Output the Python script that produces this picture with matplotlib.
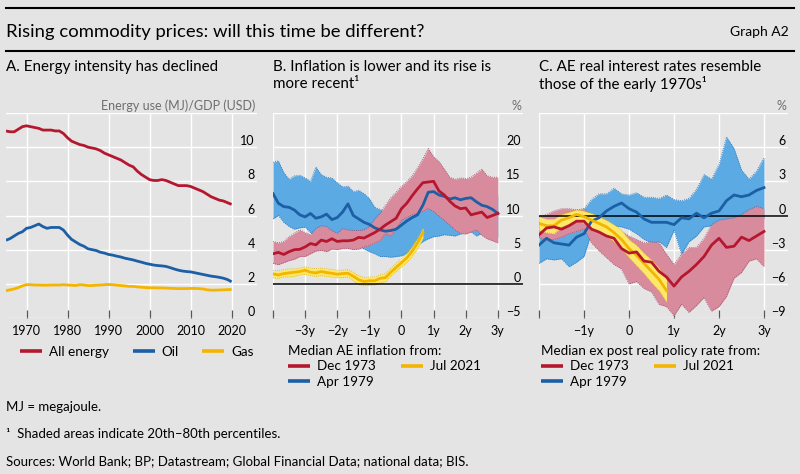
import numpy as np
import matplotlib
matplotlib.use("Agg")
import matplotlib.pyplot as plt
from matplotlib.lines import Line2D
from matplotlib import font_manager as fm

# ---------------- data ----------------
years = list(range(1965, 2021))
all_energy = [10.95, 10.9, 10.9, 11.05, 11.2, 11.25, 11.2, 11.15, 11.1, 11.0,
              11.0, 11.0, 10.95, 10.95, 10.8, 10.55, 10.35, 10.25, 10.15, 10.1,
              10.0, 9.95, 9.9, 9.8, 9.65, 9.55, 9.45, 9.35, 9.25, 9.1,
              8.95, 8.85, 8.6, 8.4, 8.25, 8.1, 8.05, 8.05, 8.1, 8.05,
              7.95, 7.85, 7.75, 7.75, 7.75, 7.7, 7.6, 7.5, 7.4, 7.25,
              7.1, 7.0, 6.9, 6.85, 6.75, 6.65]
oil = [4.55, 4.65, 4.8, 4.95, 5.05, 5.25, 5.3, 5.4, 5.5, 5.35,
       5.25, 5.3, 5.3, 5.3, 5.15, 4.85, 4.6, 4.45, 4.3, 4.2,
       4.05, 4.0, 3.95, 3.85, 3.8, 3.72, 3.68, 3.62, 3.57, 3.5,
       3.45, 3.4, 3.33, 3.27, 3.2, 3.15, 3.1, 3.07, 3.05, 3.02,
       2.95, 2.87, 2.8, 2.75, 2.72, 2.7, 2.65, 2.6, 2.55, 2.5,
       2.45, 2.42, 2.38, 2.33, 2.25, 2.12]
gas = [1.6, 1.65, 1.7, 1.78, 1.88, 1.95, 1.95, 1.93, 1.93, 1.92,
       1.92, 1.93, 1.93, 1.93, 1.95, 1.93, 1.92, 1.9, 1.95, 1.93,
       1.9, 1.9, 1.92, 1.93, 1.95, 1.96, 1.95, 1.92, 1.9, 1.88,
       1.85, 1.85, 1.82, 1.8, 1.78, 1.77, 1.77, 1.76, 1.76, 1.75,
       1.74, 1.73, 1.72, 1.72, 1.72, 1.73, 1.73, 1.72, 1.7, 1.65,
       1.63, 1.63, 1.64, 1.65, 1.66, 1.67]

# Panel B: months relative to start of episode (-48 .. 36)
months_b = np.arange(-48, 37, 2)
infl_dec73_med = [4.4, 4.6, 4.3, 4.7, 5.0, 5.05, 5.4, 5.9, 5.7, 6.4, 6.2, 6.6, 6.2, 6.3, 6.3,
                  6.4, 6.8, 6.7, 7.1, 7.5, 8.0, 8.6, 9.1, 9.6, 11.0, 11.8, 12.9, 13.9, 14.8,
                  14.9, 15.0, 13.6, 13.0, 12.1, 11.4, 11.0, 11.1, 10.1, 10.3, 10.5, 9.7, 10.0, 10.3]
infl_dec73_hi = [6.2, 6.0, 6.2, 6.9, 7.4, 7.9, 7.5, 7.2, 8.1, 8.5, 8.4, 7.8, 7.4, 8.1, 7.9,
                 7.8, 7.8, 7.9, 8.4, 9.5, 10.3, 11.5, 12.6, 13.4, 14.3, 15.0, 15.8, 17.0, 18.3,
                 19.8, 18.6, 17.9, 16.8, 15.6, 15.3, 15.5, 15.4, 15.6, 16.2, 16.8, 15.8, 15.6, 15.6]
infl_dec73_lo = [3.0, 2.8, 3.1, 3.4, 3.6, 4.0, 4.0, 4.4, 4.8, 4.9, 4.7, 5.1, 5.0, 5.2, 5.2,
                 5.0, 5.1, 5.4, 5.6, 6.0, 6.3, 7.3, 7.0, 8.0, 9.3, 9.7, 10.1, 10.4, 10.6,
                 11.0, 10.6, 9.9, 9.3, 8.6, 7.9, 7.4, 7.3, 7.6, 7.9, 7.1, 6.6, 6.3, 6.0]
infl_apr79_med = [13.2, 11.8, 11.3, 11.2, 10.8, 10.1, 9.8, 10.3, 9.6, 9.8, 10.2, 9.4, 9.7, 10.5, 11.7,
                  10.0, 9.5, 9.0, 8.7, 8.2, 7.9, 7.7, 7.8, 8.0, 8.6, 9.2, 9.7, 10.1, 11.5,
                  13.4, 13.5, 13.0, 12.8, 12.4, 12.6, 12.3, 12.5, 12.6, 12.0, 11.5, 11.3, 10.9, 10.3]
infl_apr79_hi = [17.8, 18.0, 16.3, 15.3, 15.8, 15.9, 15.5, 15.0, 17.1, 16.0, 15.6, 15.5, 14.8, 14.2, 14.3,
                 13.5, 13.7, 13.2, 12.5, 11.2, 10.9, 10.5, 10.7, 11.0, 11.6, 12.2, 12.8, 13.5, 14.2,
                 15.0, 15.5, 15.3, 15.0, 14.8, 14.6, 14.5, 14.4, 14.2, 14.0, 13.8, 13.6, 13.3, 13.0]
infl_apr79_lo = [9.5, 10.0, 9.0, 8.4, 8.0, 8.2, 8.3, 7.5, 7.0, 6.8, 6.5, 6.3, 6.0, 5.8, 5.8,
                 5.6, 5.5, 5.1, 4.7, 4.4, 4.0, 4.0, 3.9, 4.0, 4.1, 4.5, 5.0, 5.6, 6.2,
                 6.6, 6.9, 7.0, 7.2, 7.1, 7.0, 7.3, 7.4, 7.6, 7.0, 7.4, 7.2, 7.0, 6.8]
months_b_2021 = np.arange(-48, 9, 2)
infl_jul21_med = [1.45, 1.3, 1.5, 1.6, 1.7, 1.8, 2.0, 1.7, 1.6, 1.8, 1.65, 1.55, 1.4, 1.5, 1.55,
                  1.1, 0.6, 0.35, 0.45, 0.45, 0.8, 0.9, 1.7, 2.4, 3.1, 3.8, 4.8, 6.0, 7.5]
infl_jul21_hi = [2.0, 1.9, 2.1, 2.2, 2.2, 2.3, 2.5, 2.3, 2.2, 2.3, 2.2, 2.1, 2.0, 2.0, 2.1,
                 1.7, 1.2, 0.9, 1.0, 1.0, 1.3, 1.5, 2.3, 3.0, 3.7, 4.5, 5.5, 6.7, 8.2]
infl_jul21_lo = [0.9, 0.8, 1.0, 1.0, 1.1, 1.3, 1.4, 1.2, 1.1, 1.2, 1.1, 1.0, 0.9, 0.9, 1.0,
                 0.5, -0.1, -0.3, -0.2, -0.2, 0.2, 0.3, 1.1, 1.8, 2.5, 3.1, 4.0, 5.2, 6.7]

# Panel C: months relative to start of episode (-24 .. 36)
months_c = np.arange(-24, 37, 2)
rate_dec73_med = [-1.7, -1.1, -1.0, -1.2, -0.9, -0.5, -0.5, -1.2, -1.45, -1.8, -2.0, -2.9, -3.3, -3.2, -4.0, -4.1,
                  -4.9, -5.4, -6.2, -5.4, -4.9, -4.3, -3.6, -2.6, -2.0, -2.8, -2.7, -1.9, -2.2, -1.8, -1.4]
rate_dec73_hi = [-0.1, 0.1, 0.4, 0.6, 0.6, 0.5, 0.6, 0.0, -0.2, -0.4, -1.0, -1.4, -1.8, -2.1, -2.4, -2.3,
                 -2.4, -3.4, -4.3, -3.4, -2.8, -2.8, -2.0, -0.8, -0.4, -0.3, -0.2, 0.1, 0.5, 0.8, 0.6]
rate_dec73_lo = [-1.9, -2.2, -2.1, -1.9, -1.6, -1.4, -1.2, -2.4, -3.1, -3.7, -4.3, -4.7, -6.0, -5.8, -6.4, -6.7,
                 -7.8, -8.0, -8.8, -7.8, -8.5, -7.9, -7.2, -8.4, -8.0, -7.1, -5.5, -5.0, -4.0, -3.8, -4.5]
rate_apr79_med = [-2.6, -2.0, -2.4, -2.5, -2.6, -1.9, -1.6, -0.5, -0.2, 0.4, 0.8, 1.1, 0.6, 0.3, -0.3, -0.6,
                  -0.6, -0.6, -0.8, -0.2, -0.3, 0.2, -0.2, 0.2, 0.4, 1.3, 1.8, 1.65, 1.8, 2.2, 2.45]
rate_apr79_hi = [-0.6, -0.5, -0.4, -0.3, -0.2, 0.0, 0.6, 1.4, 1.9, 1.9, 2.4, 1.9, 1.8, 2.0, 1.6, 1.6,
                 1.5, 1.8, 1.4, 1.3, 1.5, 2.3, 3.6, 3.2, 4.5, 6.9, 5.9, 4.0, 3.2, 3.9, 5.1]
rate_apr79_lo = [-4.2, -3.8, -3.9, -3.8, -4.5, -4.1, -3.6, -1.5, -1.2, -1.0, -0.9, -1.0, -1.2, -1.6, -2.1, -2.4,
                 -2.3, -2.8, -1.3, -3.4, -2.3, -1.8, -1.0, -0.9, -0.7, -0.6, -0.5, -0.4, -0.3, -0.2, -0.3]
months_c_2021 = np.arange(-24, 11, 2)
rate_jul21_med = [-0.7, -0.9, -0.9, -0.4, -0.2, 0.1, -0.1, -0.4, -0.7, -1.0, -1.5, -2.1, -2.9, -3.5, -4.2, -4.9, -5.6, -6.6]
rate_jul21_hi = [-0.1, -0.3, -0.3, 0.1, 0.3, 0.5, 0.4, 0.2, -0.1, -0.4, -0.8, -1.3, -2.1, -2.6, -3.3, -3.9, -4.6, -5.6]
rate_jul21_lo = [-1.3, -1.5, -1.6, -1.0, -0.8, -0.4, -0.7, -1.1, -1.5, -1.8, -2.3, -2.9, -3.7, -4.4, -5.1, -5.9, -6.6, -7.6]

# tick definitions
a_xticks = [1970, 1980, 1990, 2000, 2010, 2020]
a_yticks = [0, 2, 4, 6, 8, 10, 12]
a_ylabels = ["0", "2", "4", "6", "8", "10", ""]
b_xticks = [-48, -36, -24, -12, 0, 12, 24, 36]
b_xlabels = ["", "\u22123y", "\u22122y", "\u22121y", "0", "1y", "2y", "3y"]
b_yticks = [-5, 0, 5, 10, 15, 20, 25]
b_ylabels = ["\u22125", "0", "5", "10", "15", "20", ""]
c_xticks = [-24, -12, 0, 12, 24, 36]
c_xlabels = ["", "\u22121y", "0", "1y", "2y", "3y"]
c_yticks = [-9, -6, -3, 0, 3, 6, 9]
c_ylabels = ["\u22129", "\u22126", "\u22123", "0", "3", "6", ""]

# ---------------- style ----------------
REG = "Lato"
plt.rcParams["font.family"] = [REG, "DejaVu Sans"]

BG = "#e4e4e4"
RED = "#b5172f"
BLUE = "#1c5fa5"
YEL = "#f3b500"
PINK = "#d98b9e"
LBLUE = "#5baae3"
LYEL = "#fde86a"
PINK_E = "#9c4a6a"
LBLUE_E = "#2a6fb5"
LYEL_E = "#e0b400"
GREY_T = "#6e6e6e"

W, H = 800, 474
fig = plt.figure(figsize=(W / 100, H / 100), dpi=100)
fig.patch.set_facecolor(BG)

def fx(px):
    return px / W

def fy(py):
    return 1 - py / H

top_px, bot_px = 113, 318
axA = fig.add_axes([fx(6), fy(bot_px), (257 - 6) / W, (bot_px - top_px) / H])
axB = fig.add_axes([fx(273), fy(bot_px), (523 - 273) / W, (bot_px - top_px) / H])
axC = fig.add_axes([fx(539), fy(bot_px), (788 - 539) / W, (bot_px - top_px) / H])

TICK_FS = 9

def style_axes(ax, xt, xl, yt, yl):
    ax.set_facecolor(BG)
    for s in ax.spines.values():
        s.set_visible(False)
    ax.set_axisbelow(True)
    ax.grid(True, color="white", lw=1.0)
    ax.set_xticks(xt)
    ax.set_xticklabels(xl)
    ax.yaxis.tick_right()
    ax.set_yticks(yt)
    ax.set_yticklabels(yl, ha="right", va="bottom")
    ax.tick_params(axis="y", length=0, pad=-1.5, labelsize=TICK_FS, colors="black")
    ax.tick_params(axis="x", direction="in", length=6, width=0.9, color="#555555",
                   pad=5, labelsize=TICK_FS)

# ---------------- panel A ----------------
style_axes(axA, a_xticks, [str(v) for v in a_xticks], a_yticks, a_ylabels)
axA.set_xlim(1965, 2026.2)
axA.set_ylim(0, 12)
axA.plot(years, all_energy, color=RED, lw=2.0, solid_capstyle="butt", zorder=3)
axA.plot(years, oil, color=BLUE, lw=2.0, solid_capstyle="butt", zorder=3)
axA.plot(years, gas, color=YEL, lw=2.0, solid_capstyle="butt", zorder=3)

def band(ax, x, lo, hi, face, edge, z):
    ax.fill_between(x, lo, hi, color=face, lw=0, zorder=z)
    ax.plot(x, lo, color=edge, lw=0.6, ls=(0, (1, 1.5)), zorder=z + 0.1)
    ax.plot(x, hi, color=edge, lw=0.6, ls=(0, (1, 1.5)), zorder=z + 0.1)

# ---------------- panel B ----------------
style_axes(axB, b_xticks, b_xlabels, b_yticks, b_ylabels)
axB.set_xlim(-48, 45.4)
axB.set_ylim(-5, 25)
band(axB, months_b, infl_apr79_lo, infl_apr79_hi, LBLUE, LBLUE_E, 1)
band(axB, months_b, infl_dec73_lo, infl_dec73_hi, PINK, PINK_E, 2)
band(axB, months_b_2021, infl_jul21_lo, infl_jul21_hi, LYEL, LYEL_E, 3)
axB.axhline(0, color="black", lw=1.1, zorder=4)
axB.plot(months_b, infl_apr79_med, color=BLUE, lw=2.0, zorder=5)
axB.plot(months_b, infl_dec73_med, color=RED, lw=2.0, zorder=6)
axB.plot(months_b_2021, infl_jul21_med, color=YEL, lw=2.0, zorder=7)

# ---------------- panel C ----------------
style_axes(axC, c_xticks, c_xlabels, c_yticks, c_ylabels)
axC.set_xlim(-24, 42.4)
axC.set_ylim(-9, 9)
band(axC, months_c, rate_apr79_lo, rate_apr79_hi, LBLUE, LBLUE_E, 1)
band(axC, months_c, rate_dec73_lo, rate_dec73_hi, PINK, PINK_E, 2)
band(axC, months_c_2021, rate_jul21_lo, rate_jul21_hi, LYEL, LYEL_E, 3)
axC.axhline(0, color="black", lw=1.1, zorder=4)
axC.plot(months_c, rate_apr79_med, color=BLUE, lw=2.0, zorder=5)
axC.plot(months_c_2021, rate_jul21_med, color=YEL, lw=2.0, zorder=6)
axC.plot(months_c, rate_dec73_med, color=RED, lw=2.0, zorder=7)

# ---------------- titles / labels ----------------
fig.add_artist(Line2D([fx(6), fx(794)], [fy(8), fy(8)], color="black", lw=1.5))
fig.add_artist(Line2D([fx(6), fx(794)], [fy(51), fy(51)], color="black", lw=1.5))
fig.text(fx(6), fy(32), "Rising commodity prices: will this time be different?",
         fontsize=13.3, family=REG, va="center", ha="left")
fig.text(fx(789), fy(32), "Graph A2", fontsize=10, va="center", ha="right")

PT_FS = 10.9
fig.text(fx(6), fy(67), "A. Energy intensity has declined", fontsize=PT_FS, family=REG, va="center")
fig.text(fx(273), fy(67), "B. Inflation is lower and its rise is", fontsize=PT_FS, family=REG, va="center")
fig.text(fx(273), fy(84), "more recent\u00b9", fontsize=PT_FS, family=REG, va="center")
fig.text(fx(539), fy(67), "C. AE real interest rates resemble", fontsize=PT_FS, family=REG, va="center")
fig.text(fx(539), fy(84), "those of the early 1970s\u00b9", fontsize=PT_FS, family=REG, va="center")

fig.text(fx(255), fy(106), "Energy use (MJ)/GDP (USD)", fontsize=9, color=GREY_T, ha="right", va="center")
fig.text(fx(521), fy(106), "%", fontsize=9, color=GREY_T, ha="right", va="center")
fig.text(fx(786), fy(106), "%", fontsize=9, color=GREY_T, ha="right", va="center")

# ---------------- legends ----------------
LEG_FS = 9.7
def lh(c):
    return Line2D([], [], color=c, lw=2.6, solid_capstyle="butt")

axA.legend([lh(RED), lh(BLUE), lh(YEL)], ["All energy", "Oil", "Gas"],
           loc="center left", bbox_to_anchor=(fx(20), fy(352)), bbox_transform=fig.transFigure,
           ncol=3, frameon=False, fontsize=LEG_FS, handlelength=1.63, handletextpad=0.52,
           columnspacing=1.75, borderpad=0, borderaxespad=0)
axB.legend([lh(RED), lh(BLUE), lh(YEL)], ["Dec 1973", "Apr 1979", "Jul 2021"],
           title="Median AE inflation from:", title_fontsize=LEG_FS, alignment="left",
           loc="upper left", bbox_to_anchor=(fx(288), fy(345)), bbox_transform=fig.transFigure,
           ncol=2, frameon=False, fontsize=LEG_FS, handlelength=1.63, handletextpad=0.52,
           columnspacing=1.85, labelspacing=0.25, borderpad=0, borderaxespad=0)
axC.legend([lh(RED), lh(BLUE), lh(YEL)], ["Dec 1973", "Apr 1979", "Jul 2021"],
           title="Median ex post real policy rate from:", title_fontsize=LEG_FS, alignment="left",
           loc="upper left", bbox_to_anchor=(fx(541), fy(345)), bbox_transform=fig.transFigure,
           ncol=2, frameon=False, fontsize=LEG_FS, handlelength=1.63, handletextpad=0.52,
           columnspacing=1.85, labelspacing=0.25, borderpad=0, borderaxespad=0)

# ---------------- footnotes ----------------
FN_FS = 9.5
fig.text(fx(6), fy(407), "MJ = megajoule.", fontsize=FN_FS, family=REG, va="center")
fig.text(fx(6), fy(434), "\u00b9  Shaded areas indicate 20th\u201380th percentiles.", fontsize=FN_FS, family=REG, va="center")
fig.text(fx(6), fy(461), "Sources: World Bank; BP; Datastream; Global Financial Data; national data; BIS.",
         fontsize=FN_FS, family=REG, va="center")

fig.savefig("out.png", dpi=100, facecolor=BG)
